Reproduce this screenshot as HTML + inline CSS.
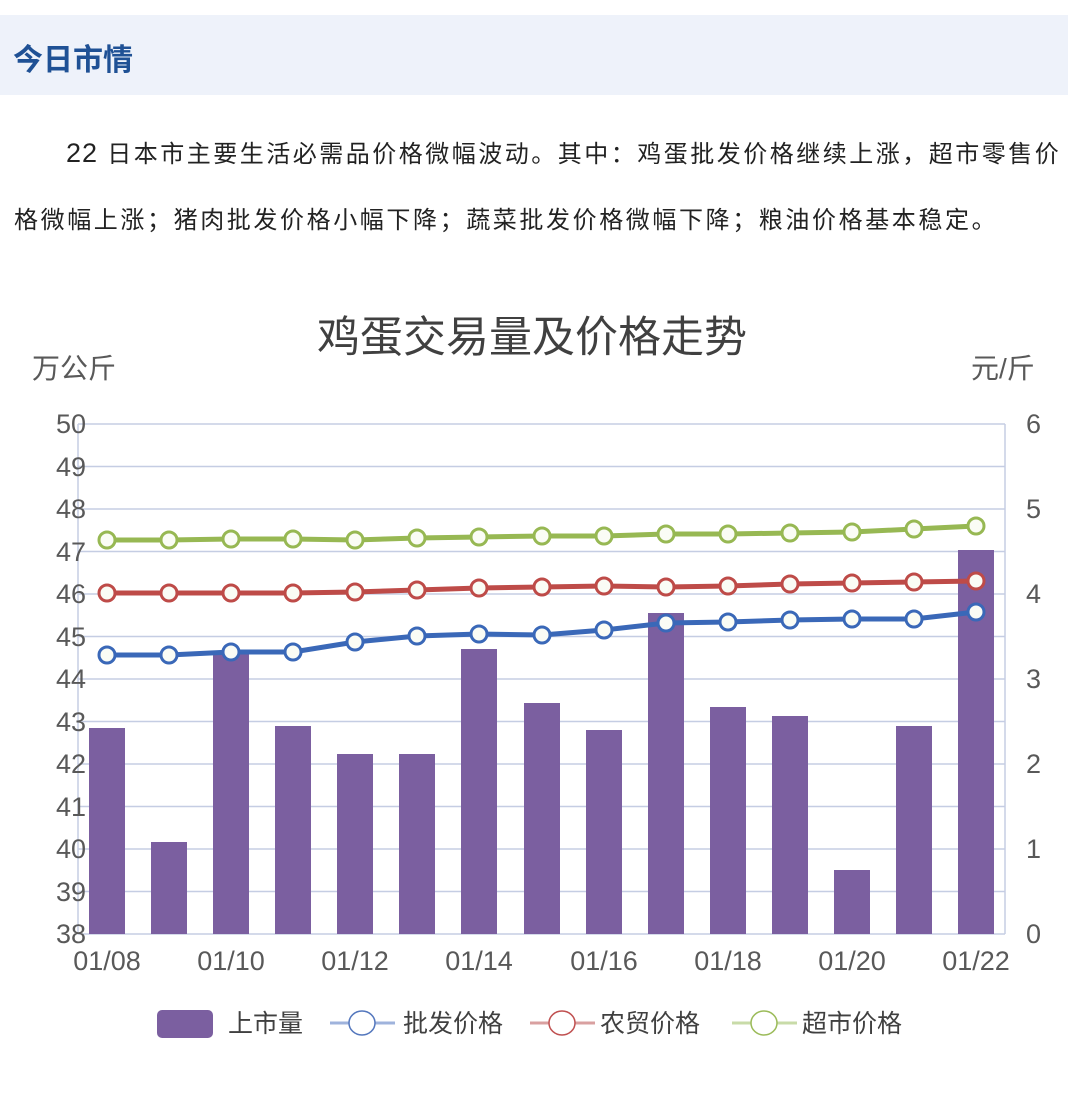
<!DOCTYPE html>
<html><head><meta charset="utf-8"><style>
body{margin:0;width:1080px;height:1106px;background:#fff;overflow:hidden;font-family:"Liberation Sans","Noto Sans CJK SC",sans-serif}
.hd{position:absolute;left:0;top:15px;width:1068px;height:80px;background:#eef2fa}
.hd span{position:absolute;left:13px;top:20px;font-size:30px;font-weight:bold;color:#1f5195}
.p{position:absolute;left:14px;font-size:24px;color:#222;letter-spacing:2.6px;white-space:nowrap}
</style></head><body>
<div class="hd"><span>今日市情</span></div>
<div class="p" style="top:134px;left:66px;letter-spacing:2.5px"><span style="font-size:27px;letter-spacing:1px">22</span> 日本市主要生活必需品价格微幅波动。其中：鸡蛋批发价格继续上涨，超市零售价</div>
<div class="p" style="top:200px">格微幅上涨；猪肉批发价格小幅下降；蔬菜批发价格微幅下降；粮油价格基本稳定。</div>
<svg width="1080" height="1106" style="position:absolute;left:0;top:0" font-family="Liberation Sans,Noto Sans CJK SC,sans-serif">
<text x="532" y="352" font-size="43" fill="#404040" text-anchor="middle">鸡蛋交易量及价格走势</text>
<text x="32" y="378" font-size="28" fill="#595959">万公斤</text>
<text x="971" y="378" font-size="28" fill="#595959">元/斤</text>
<g stroke="#c5cde3" stroke-width="1.5">
<line x1="78" y1="424" x2="1005" y2="424"/><line x1="78" y1="466.5" x2="1005" y2="466.5"/><line x1="78" y1="509" x2="1005" y2="509"/><line x1="78" y1="551.5" x2="1005" y2="551.5"/><line x1="78" y1="594" x2="1005" y2="594"/><line x1="78" y1="636.5" x2="1005" y2="636.5"/><line x1="78" y1="679" x2="1005" y2="679"/><line x1="78" y1="721.5" x2="1005" y2="721.5"/><line x1="78" y1="764" x2="1005" y2="764"/><line x1="78" y1="806.5" x2="1005" y2="806.5"/><line x1="78" y1="849" x2="1005" y2="849"/><line x1="78" y1="891.5" x2="1005" y2="891.5"/><line x1="78" y1="934" x2="1005" y2="934"/>
<line x1="78" y1="424" x2="78" y2="934"/><line x1="1005" y1="424" x2="1005" y2="934"/>
</g>
<g font-size="27" fill="#595959" text-anchor="end">
<text x="86" y="433">50</text><text x="86" y="476">49</text><text x="86" y="518">48</text><text x="86" y="561">47</text><text x="86" y="603">46</text><text x="86" y="646">45</text><text x="86" y="688">44</text><text x="86" y="731">43</text><text x="86" y="773">42</text><text x="86" y="816">41</text><text x="86" y="858">40</text><text x="86" y="901">39</text><text x="86" y="943">38</text>
</g>
<g font-size="27" fill="#595959">
<text x="1026" y="433">6</text><text x="1026" y="518">5</text><text x="1026" y="603">4</text><text x="1026" y="688">3</text><text x="1026" y="773">2</text><text x="1026" y="858">1</text><text x="1026" y="943">0</text>
</g>
<g font-size="27" fill="#595959" text-anchor="middle">
<text x="107" y="970">01/08</text><text x="231" y="970">01/10</text><text x="355" y="970">01/12</text><text x="479" y="970">01/14</text><text x="604" y="970">01/16</text><text x="728" y="970">01/18</text><text x="852" y="970">01/20</text><text x="976" y="970">01/22</text>
</g>
<g fill="#7b5fa0">
<rect x="89" y="728" width="36" height="206"/><rect x="151" y="842" width="36" height="92"/><rect x="213" y="652" width="36" height="282"/><rect x="275" y="726" width="36" height="208"/><rect x="337" y="754" width="36" height="180"/><rect x="399" y="754" width="36" height="180"/><rect x="461" y="649" width="36" height="285"/><rect x="524" y="703" width="36" height="231"/><rect x="586" y="730" width="36" height="204"/><rect x="648" y="613" width="36" height="321"/><rect x="710" y="707" width="36" height="227"/><rect x="772" y="716" width="36" height="218"/><rect x="834" y="870" width="36" height="64"/><rect x="896" y="726" width="36" height="208"/><rect x="958" y="550" width="36" height="384"/>
</g>
<g fill="none" stroke-width="5">
<polyline stroke="#3a68b8" points="107,655 169,655 231,652 293,652 355,642 417,636 479,634 542,635 604,630 666,623 728,622 790,620 852,619 914,619 976,612"/>
<polyline stroke="#be4b48" points="107,593 169,593 231,593 293,593 355,592 417,590 479,588 542,587 604,586 666,587 728,586 790,584 852,583 914,582 976,581"/>
<polyline stroke="#97b853" points="107,540 169,540 231,539 293,539 355,540 417,538 479,537 542,536 604,536 666,534 728,534 790,533 852,532 914,529 976,526"/>
</g>
<g fill="#fafcf5" stroke-width="3">
<g stroke="#3a68b8"><circle cx="107" cy="655" r="8"/><circle cx="169" cy="655" r="8"/><circle cx="231" cy="652" r="8"/><circle cx="293" cy="652" r="8"/><circle cx="355" cy="642" r="8"/><circle cx="417" cy="636" r="8"/><circle cx="479" cy="634" r="8"/><circle cx="542" cy="635" r="8"/><circle cx="604" cy="630" r="8"/><circle cx="666" cy="623" r="8"/><circle cx="728" cy="622" r="8"/><circle cx="790" cy="620" r="8"/><circle cx="852" cy="619" r="8"/><circle cx="914" cy="619" r="8"/><circle cx="976" cy="612" r="8"/></g>
<g stroke="#be4b48"><circle cx="107" cy="593" r="8"/><circle cx="169" cy="593" r="8"/><circle cx="231" cy="593" r="8"/><circle cx="293" cy="593" r="8"/><circle cx="355" cy="592" r="8"/><circle cx="417" cy="590" r="8"/><circle cx="479" cy="588" r="8"/><circle cx="542" cy="587" r="8"/><circle cx="604" cy="586" r="8"/><circle cx="666" cy="587" r="8"/><circle cx="728" cy="586" r="8"/><circle cx="790" cy="584" r="8"/><circle cx="852" cy="583" r="8"/><circle cx="914" cy="582" r="8"/><circle cx="976" cy="581" r="8"/></g>
<g stroke="#97b853"><circle cx="107" cy="540" r="8"/><circle cx="169" cy="540" r="8"/><circle cx="231" cy="539" r="8"/><circle cx="293" cy="539" r="8"/><circle cx="355" cy="540" r="8"/><circle cx="417" cy="538" r="8"/><circle cx="479" cy="537" r="8"/><circle cx="542" cy="536" r="8"/><circle cx="604" cy="536" r="8"/><circle cx="666" cy="534" r="8"/><circle cx="728" cy="534" r="8"/><circle cx="790" cy="533" r="8"/><circle cx="852" cy="532" r="8"/><circle cx="914" cy="529" r="8"/><circle cx="976" cy="526" r="8"/></g>
</g>
<rect x="157" y="1010" width="56" height="28" rx="5" fill="#7b5fa0"/>
<text x="228" y="1032" font-size="25" fill="#404040">上市量</text>
<line x1="330" y1="1023" x2="395" y2="1023" stroke="#9fb3dc" stroke-width="3"/><ellipse cx="362" cy="1023" rx="13" ry="12" fill="#fff" stroke="#5477bd" stroke-width="1.5"/>
<text x="403" y="1032" font-size="25" fill="#404040">批发价格</text>
<line x1="530" y1="1023" x2="595" y2="1023" stroke="#d9a0a0" stroke-width="3"/><ellipse cx="562" cy="1023" rx="13" ry="12" fill="#fff" stroke="#c05050" stroke-width="1.5"/>
<text x="600" y="1032" font-size="25" fill="#404040">农贸价格</text>
<line x1="732" y1="1023" x2="797" y2="1023" stroke="#c8dba8" stroke-width="3"/><ellipse cx="764" cy="1023" rx="13" ry="12" fill="#fff" stroke="#9bbb59" stroke-width="1.5"/>
<text x="802" y="1032" font-size="25" fill="#404040">超市价格</text>
</svg>
</body></html>
